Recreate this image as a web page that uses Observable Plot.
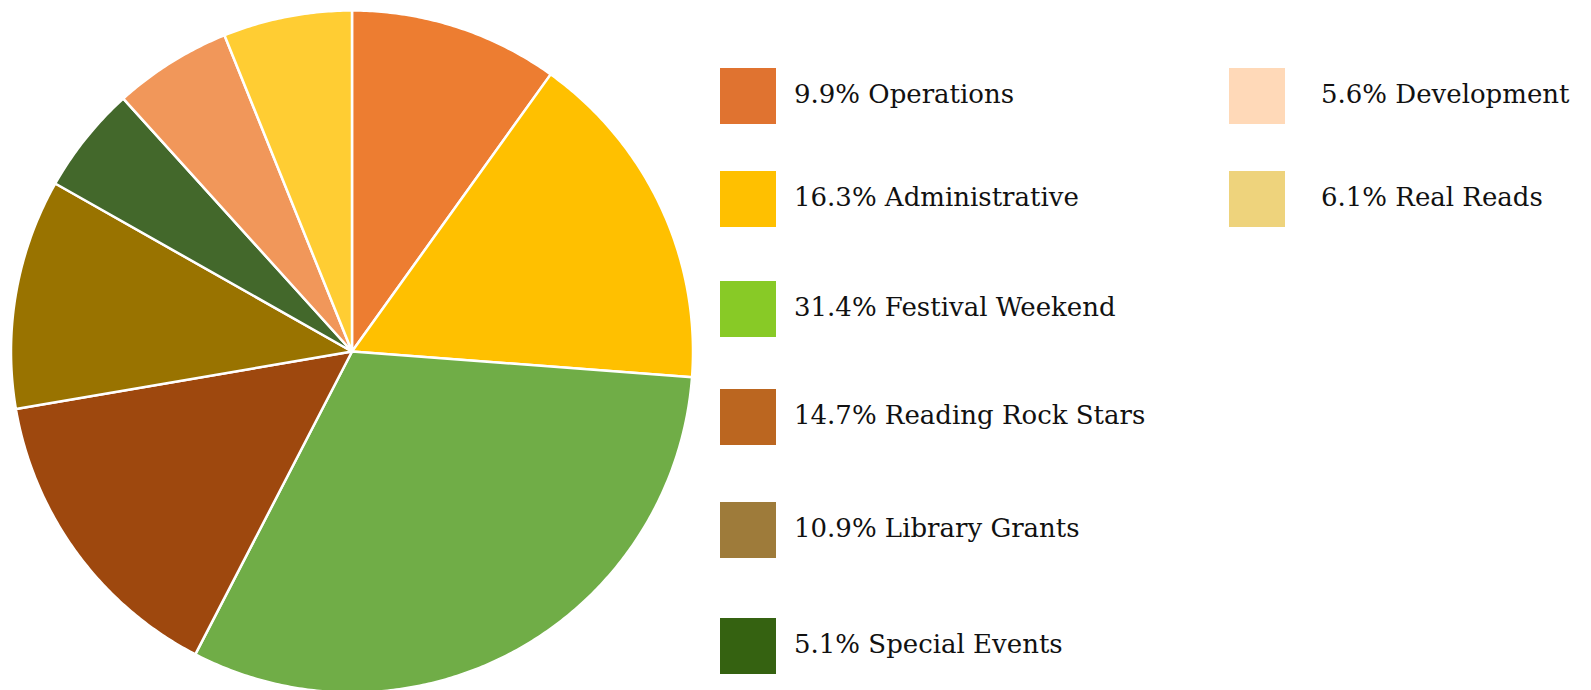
<!DOCTYPE html>
<html>
<head>
<meta charset="utf-8">
<script src="https://cdn.jsdelivr.net/npm/d3@7"></script>
<script src="https://cdn.jsdelivr.net/npm/@observablehq/plot@0.6"></script>
<style>
  html, body { margin: 0; padding: 0; background: #fff; overflow: hidden; }
  #wrap { position: relative; width: 1591px; height: 690px; }
  #chart svg { display: block; }
  .item { position: absolute; display: flex; align-items: center; height: 56px;
          font-family: "DejaVu Serif", serif; font-size: 26px; color: #111; white-space: nowrap; }
  .sw { width: 56px; height: 56px; flex: none; }
  .lab { position: relative; top: -2px; }
</style>
</head>
<body>
<div id="wrap">
  <div id="chart"></div>
  <div id="legend"></div>
</div>
<script>
const categories = ["Operations", "Administrative", "Festival Weekend", "Reading Rock Stars",
                    "Library Grants", "Special Events", "Development", "Real Reads"];
const shares = [9.9, 16.3, 31.4, 14.7, 10.9, 5.1, 5.6, 6.1];
const sliceColors = ["#ED7D31", "#FFC000", "#70AD47", "#9E480E", "#997300", "#43682B", "#F1975A", "#FFCD33"];
const legendColors = ["#E07330", "#FFC000", "#88CA26", "#BB6620", "#9E7B3A", "#356211", "#FFD9B8", "#EED37C"];

// build slice outlines (clockwise from 12 o'clock)
const total = d3.sum(shares);
const pts = [];
let acc = 0;
categories.forEach((cat, i) => {
  const a0 = acc / total * 2 * Math.PI;
  acc += shares[i];
  const a1 = acc / total * 2 * Math.PI;
  pts.push({cat, x: 0, y: 0});
  const n = Math.max(2, Math.ceil((a1 - a0) / (Math.PI / 360)));
  for (let k = 0; k <= n; k++) {
    const a = a0 + (a1 - a0) * k / n;
    pts.push({cat, x: Math.sin(a), y: Math.cos(a)});
  }
});

const cx = 351.5, cy = 351, r = 341;
const chart = Plot.plot({
  width: 1591,
  height: 690,
  margin: 0,
  x: {domain: [-1, 1], range: [cx - r, cx + r], axis: null},
  y: {domain: [-1, 1], range: [cy + r, cy - r], axis: null},
  color: {domain: categories, range: sliceColors},
  marks: [
    Plot.line(pts, {x: "x", y: "y", z: "cat", fill: "cat", stroke: "white",
                    strokeWidth: 2.5, strokeLinejoin: "round", curve: "linear-closed"})
  ]
});
document.getElementById("chart").append(chart);

// legend
const tops1 = [68, 171, 281, 389, 502, 618];
const tops2 = [68, 171];
const legend = document.getElementById("legend");
categories.forEach((cat, i) => {
  const col2 = i >= 6;
  const item = document.createElement("div");
  item.className = "item";
  item.style.left = (col2 ? 1229 : 720) + "px";
  item.style.top = (col2 ? tops2[i - 6] : tops1[i]) + "px";
  const sw = document.createElement("div");
  sw.className = "sw";
  sw.style.background = legendColors[i];
  const lab = document.createElement("span");
  lab.className = "lab";
  lab.style.marginLeft = (col2 ? 36 : 18) + "px";
  lab.textContent = shares[i].toFixed(1) + "% " + cat;
  item.append(sw, lab);
  legend.append(item);
});
</script>
</body>
</html>
